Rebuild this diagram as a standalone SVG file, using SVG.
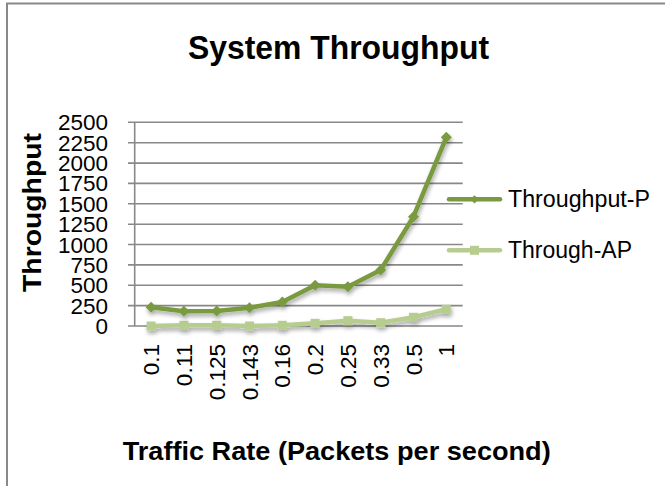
<svg xmlns="http://www.w3.org/2000/svg" width="665" height="486" viewBox="0 0 665 486">
<style>
.t{font-family:"Liberation Sans",Arial,sans-serif;fill:#000}
.tick{font-size:22.5px}
.ylab{text-anchor:end}
.xlab{text-anchor:end}
.b{font-weight:bold}
.grid{stroke:#888;stroke-width:1.6;fill:none}
.lp{stroke:#7A9A40;stroke-width:4.5;fill:none;stroke-linejoin:round;stroke-linecap:round}
.la{stroke:#B7CD90;stroke-width:4.5;fill:none;stroke-linejoin:round;stroke-linecap:round}
.mp{fill:#7A9A40}
.ma{fill:#B7CD90}
</style>
<defs>
<filter id="sh" x="-10%" y="-10%" width="130%" height="140%">
<feGaussianBlur in="SourceAlpha" stdDeviation="2"/>
<feOffset dx="1" dy="3" result="o"/>
<feComponentTransfer><feFuncA type="linear" slope="0.35"/></feComponentTransfer>
<feMerge><feMergeNode/><feMergeNode in="SourceGraphic"/></feMerge>
</filter>
<path id="dia" d="M0,-5.5 L5.5,0 L0,5.5 L-5.5,0 Z"/>
<rect id="sq" x="-4.5" y="-4.5" width="9" height="9"/>
</defs>
<rect width="665" height="486" fill="#fff"/>
<g id="frame">
<path d="M7,486 V3.5 H665" fill="none" stroke="#888" stroke-width="2"/>
</g>
<g id="title"><text class="t b" x="338.5" y="59" font-size="33" text-anchor="middle" textLength="301" lengthAdjust="spacingAndGlyphs">System Throughput</text></g>
<g id="axes">
<g class="grid">
<path d="M128,122.3H462.7M128,142.7H462.7M128,163.1H462.7M128,183.4H462.7M128,203.8H462.7M128,224.2H462.7M128,244.5H462.7M128,264.9H462.7M128,285.3H462.7M128,305.6H462.7M128,326H462.7"/>
<path d="M134.7,122.3V326"/>
</g>
<g class="t tick ylab">
<text x="108" y="130.3">2500</text>
<text x="108" y="150.7">2250</text>
<text x="108" y="171.1">2000</text>
<text x="108" y="191.4">1750</text>
<text x="108" y="211.8">1500</text>
<text x="108" y="232.2">1250</text>
<text x="108" y="252.5">1000</text>
<text x="108" y="272.9">750</text>
<text x="108" y="293.3">500</text>
<text x="108" y="313.6">250</text>
<text x="108" y="334">0</text>
</g>
<g class="t tick xlab">
<text transform="translate(159.1,344) rotate(-90)">0.1</text>
<text transform="translate(191.9,344) rotate(-90)">0.11</text>
<text transform="translate(224.7,344) rotate(-90)">0.125</text>
<text transform="translate(257.5,344) rotate(-90)">0.143</text>
<text transform="translate(290.3,344) rotate(-90)">0.16</text>
<text transform="translate(323.1,344) rotate(-90)">0.2</text>
<text transform="translate(355.9,344) rotate(-90)">0.25</text>
<text transform="translate(388.7,344) rotate(-90)">0.33</text>
<text transform="translate(421.5,344) rotate(-90)">0.5</text>
<text transform="translate(454.3,344) rotate(-90)">1</text>
</g>
<text class="t b" transform="translate(41,212.5) rotate(-90)" font-size="25" text-anchor="middle" textLength="159" lengthAdjust="spacingAndGlyphs">Throughput</text>
<text class="t b" x="336.7" y="459.5" font-size="25" text-anchor="middle" textLength="428" lengthAdjust="spacingAndGlyphs">Traffic Rate (Packets per second)</text>
</g>
<g id="connectors">
<g id="series-ap" filter="url(#sh)">
<polyline class="la" points="151.1,326 183.9,325.3 216.7,325.3 249.5,326 282.3,325.3 315.1,323.3 347.9,320.7 380.7,322.7 413.5,317.3 446.3,309.3"/>
<g class="ma">
<use href="#sq" x="151.1" y="326"/><use href="#sq" x="183.9" y="325.3"/><use href="#sq" x="216.7" y="325.3"/><use href="#sq" x="249.5" y="326"/><use href="#sq" x="282.3" y="325.3"/><use href="#sq" x="315.1" y="323.3"/><use href="#sq" x="347.9" y="320.7"/><use href="#sq" x="380.7" y="322.7"/><use href="#sq" x="413.5" y="317.3"/><use href="#sq" x="446.3" y="309.3"/>
</g>
</g>
<g id="series-p" filter="url(#sh)">
<polyline class="lp" points="151.1,307.3 183.9,311.3 216.7,311 249.5,307.7 282.3,302 315.1,285.3 347.9,286.7 380.7,270 413.5,216.7 446.3,137.3"/>
<g class="mp">
<use href="#dia" x="151.1" y="307.3"/><use href="#dia" x="183.9" y="311.3"/><use href="#dia" x="216.7" y="311"/><use href="#dia" x="249.5" y="307.7"/><use href="#dia" x="282.3" y="302"/><use href="#dia" x="315.1" y="285.3"/><use href="#dia" x="347.9" y="286.7"/><use href="#dia" x="380.7" y="270"/><use href="#dia" x="413.5" y="216.7"/><use href="#dia" x="446.3" y="137.3"/>
</g>
</g>
</g>
<g id="legend">
<g id="legend-p">
<path class="lp" d="M449,199.3H500"/>
<use href="#dia" class="mp" x="474.5" y="199.3" transform="translate(474.5,199.3) scale(0.75) translate(-474.5,-199.3)"/>
<text class="t" x="508" y="207" font-size="23" textLength="142" lengthAdjust="spacingAndGlyphs">Throughput-P</text>
</g>
<g id="legend-ap">
<path class="la" d="M449,250.3H500"/>
<use href="#sq" class="ma" x="474.5" y="250.3"/>
<text class="t" x="508" y="258" font-size="23" textLength="124" lengthAdjust="spacingAndGlyphs">Through-AP</text>
</g>
</g>
</svg>
